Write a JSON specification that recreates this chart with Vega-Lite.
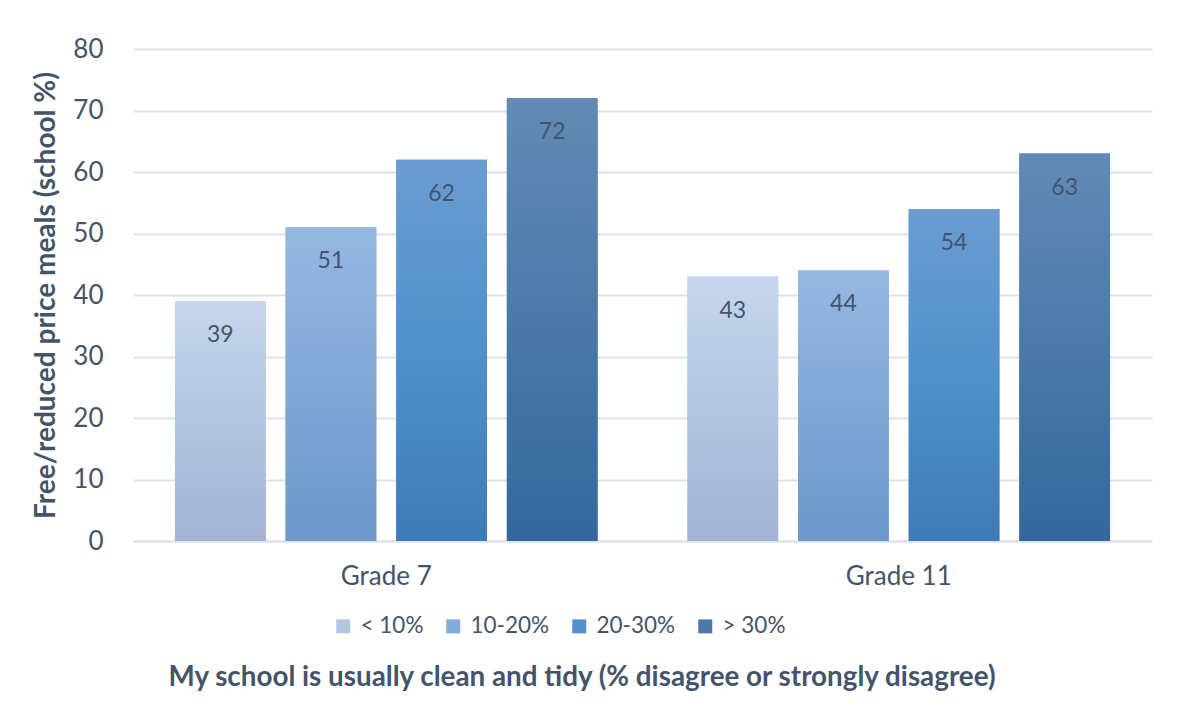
{
  "$schema": "https://vega.github.io/schema/vega-lite/v6.json",
  "width": 1019,
  "height": 492,
  "autosize": {"type": "none"},
  "padding": {"left": 133, "top": 49, "right": 38, "bottom": 172},
  "background": "white",
  "data": {
    "values": [
      {"grade": "Grade 7", "cat": "< 10%", "value": 39},
      {"grade": "Grade 7", "cat": "10-20%", "value": 51},
      {"grade": "Grade 7", "cat": "20-30%", "value": 62},
      {"grade": "Grade 7", "cat": "> 30%", "value": 72},
      {"grade": "Grade 11", "cat": "< 10%", "value": 43},
      {"grade": "Grade 11", "cat": "10-20%", "value": 44},
      {"grade": "Grade 11", "cat": "20-30%", "value": 54},
      {"grade": "Grade 11", "cat": "> 30%", "value": 63}
    ]
  },
  "encoding": {
    "x": {
      "field": "grade", "type": "nominal", "sort": ["Grade 7", "Grade 11"],
      "scale": {"paddingInner": 0.1754, "paddingOuter": 0.0819},
      "axis": {
        "title": "My school is usually clean and tidy (% disagree or strongly disagree)",
        "titleFont": "Lato", "titleFontSize": 27.8, "titleFontWeight": "bold", "titleColor": "#44546A",
        "titlePadding": 74, "titleX": 448.5, "titleAlign": "center",
        "labelFont": "Lato", "labelFontSize": 26, "labelColor": "#44546A", "labelPadding": 22,
        "labelAngle": 0, "ticks": false, "domain": true, "domainColor": "#dde1e8", "domainWidth": 2
      }
    },
    "xOffset": {
      "field": "cat", "type": "nominal",
      "scale": {"domain": ["< 10%", "10-20%", "20-30%", "> 30%"], "paddingInner": 0.18, "paddingOuter": 0}
    },
    "y": {
      "field": "value", "type": "quantitative",
      "scale": {"domain": [0, 80], "nice": false},
      "axis": {
        "values": [0, 10, 20, 30, 40, 50, 60, 70, 80],
        "title": "Free/reduced price meals (school %)",
        "titleFont": "Lato", "titleFontSize": 28, "titleFontWeight": "bold", "titleColor": "#44546A",
        "titlePadding": 12,
        "labelFont": "Lato", "labelFontSize": 26, "labelColor": "#44546A", "labelPadding": 30,
        "ticks": false, "domain": false,
        "grid": true, "gridColor": "#dde1e8", "gridWidth": 2
      }
    }
  },
  "layer": [
    {
      "mark": {"type": "bar"},
      "encoding": {
        "color": {
          "field": "cat", "type": "nominal",
          "scale": {
            "domain": ["< 10%", "10-20%", "20-30%", "> 30%"],
            "range": ["#b4c6e2", "#80acdc", "#5591cd", "#4a79aa"]
          },
          "legend": {
            "title": null, "orient": "none", "legendX": 199, "legendY": 566, "direction": "horizontal",
            "symbolType": "square", "symbolSize": 196, "symbolStrokeWidth": 0,
            "labelFont": "Lato", "labelFontSize": 22.5, "labelColor": "#44546A",
            "labelOffset": 6, "columnPadding": 18
          }
        }
      }
    },
    {
      "transform": [{"filter": "datum.cat === '< 10%'"}],
      "mark": {"type": "bar", "color": {"gradient": "linear", "x1": 0, "y1": 0, "x2": 0, "y2": 1, "stops": [{"offset": 0, "color": "#c6d6ee"}, {"offset": 1, "color": "#a1b3d3"}]}}
    },
    {
      "transform": [{"filter": "datum.cat === '10-20%'"}],
      "mark": {"type": "bar", "color": {"gradient": "linear", "x1": 0, "y1": 0, "x2": 0, "y2": 1, "stops": [{"offset": 0, "color": "#95b8e2"}, {"offset": 1, "color": "#6a98cb"}]}}
    },
    {
      "transform": [{"filter": "datum.cat === '20-30%'"}],
      "mark": {"type": "bar", "color": {"gradient": "linear", "x1": 0, "y1": 0, "x2": 0, "y2": 1, "stops": [{"offset": 0, "color": "#6b9dd2"}, {"offset": 0.5, "color": "#4f90cd"}, {"offset": 1, "color": "#3d7bb8"}]}}
    },
    {
      "transform": [{"filter": "datum.cat === '> 30%'"}],
      "mark": {"type": "bar", "color": {"gradient": "linear", "x1": 0, "y1": 0, "x2": 0, "y2": 1, "stops": [{"offset": 0, "color": "#628ab5"}, {"offset": 1, "color": "#33689d"}]}}
    },
    {
      "mark": {"type": "text", "baseline": "middle", "dy": 34, "font": "Lato", "fontSize": 23, "color": "#44546A"},
      "encoding": {"text": {"field": "value", "type": "quantitative"}}
    }
  ],
  "config": {"view": {"stroke": null}}
}
